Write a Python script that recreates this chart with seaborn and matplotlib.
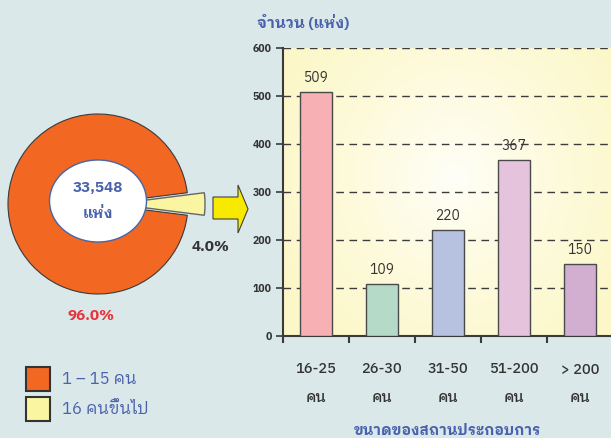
import numpy as np
import pandas as pd
import matplotlib
matplotlib.use("Agg")
import matplotlib.pyplot as plt
import seaborn as sns
from matplotlib.patches import Ellipse, Polygon

# ข้อมูล
pie_labels = ['1 – 15 คน', '16 คนขึ้นไป']
pie_values = [96.0, 4.0]
pie_colors = ['#F26722', '#F9F5A0']
total_label = ['33,548', 'แห่ง']

size_labels = ['16-25\nคน', '26-30\nคน', '31-50\nคน', '51-200\nคน', '> 200\nคน']
size_counts = [509, 109, 220, 367, 150]
bar_colors = ['#F7B0B4', '#B5DBC8', '#B7C2E0', '#E6C3DD', '#D2AED0']

y_title = 'จำนวน (แห่ง)'
x_title = 'ขนาดของสถานประกอบการ'

sns.set_theme(style='white')
plt.rcParams['font.family'] = ['IBM Plex Sans Thai Looped', 'Noto Sans Thai Looped', 'DejaVu Sans']

BG = '#DAE8E9'
BLUE = '#4A62AC'
DARK = '#333333'

fig = plt.figure(figsize=(6.11, 4.38), dpi=100, facecolor=BG)

# ---- แผนภูมิวงกลม (พิกัดเป็นพิกเซล) ----
ax0 = fig.add_axes([0, 0, 1, 1])
wedges, _ = ax0.pie(pie_values, colors=pie_colors, radius=90, center=(98, 204),
                    startangle=7.2, explode=[0, 17],
                    wedgeprops=dict(edgecolor='#3a3a3a', linewidth=0.8))
wedges[1].set_edgecolor('#666666')
wedges[1].set_linewidth(1.0)
ax0.set_xlim(0, 611)
ax0.set_ylim(438, 0)
ax0.set_aspect('auto')
ax0.axis('off')

ax0.add_patch(Ellipse((98, 201), 97, 82, facecolor='white', edgecolor='#4466AA', lw=1, zorder=5))
ax0.text(98, 188, total_label[0], ha='center', va='center', color=BLUE,
         fontsize=11, fontweight='bold', zorder=6)
ax0.text(98, 214, total_label[1], ha='center', va='center', color=BLUE,
         fontsize=11, fontweight='bold', zorder=6)

ax0.text(91, 316, f'{pie_values[0]:.1f}%', ha='center', va='center', color='#E8343A',
         fontsize=11, fontweight='bold')
ax0.text(210, 247, f'{pie_values[1]:.1f}%', ha='center', va='center', color=DARK,
         fontsize=11, fontweight='bold')

# ลูกศรสีเหลือง
ax0.add_patch(Polygon([(213, 197), (238, 197), (238, 185), (248, 209),
                       (238, 233), (238, 219), (213, 219)], closed=True,
                      facecolor='#F7EA00', edgecolor='#404040', lw=0.8, zorder=4))

# คำอธิบาย
leg = ax0.legend(wedges, pie_labels, loc='upper left', bbox_to_anchor=(0.0184, 0.197),
                 frameon=False, fontsize=12, handlelength=1.44, handleheight=1.83,
                 handletextpad=0.72, labelspacing=0.36, labelcolor=BLUE)
for h in leg.legend_handles:
    h.set_edgecolor('#333333')
    h.set_linewidth(1.5)

# ---- แผนภูมิแท่ง ----
ax1 = fig.add_axes([283 / 611, 1 - 336 / 438, 330 / 611, 288 / 438])
ax1.set_facecolor('none')

# พื้นหลังไล่สีแบบรัศมี
gx, gy = np.meshgrid(np.linspace(0, 1, 200), np.linspace(0, 1, 200))
r = np.sqrt(((gx - 0.52) / 0.6) ** 2 + ((gy - 0.45) / 0.75) ** 2)
r = np.clip(r, 0, 1) ** 0.8
c_in = np.array([1.0, 1.0, 0.98])
c_out = np.array([252, 247, 200]) / 255
img = c_in[None, None, :] * (1 - r[..., None]) + c_out[None, None, :] * r[..., None]
ax1.imshow(img, extent=(-0.5, 4.5, 0, 600), aspect='auto', zorder=0, origin='upper')

df = pd.DataFrame({'size': size_labels, 'count': size_counts})
sns.barplot(data=df, x='size', y='count', hue='size', palette=bar_colors, width=0.49,
            saturation=1, edgecolor='#4a4a4a', linewidth=1, legend=False, ax=ax1, zorder=3)

for cont in ax1.containers:
    ax1.bar_label(cont, padding=5, fontsize=10, color=DARK)

ax1.set_xlim(-0.5, 4.5)
ax1.set_ylim(0, 600)
ax1.set_yticks(np.arange(0, 700, 100))
ax1.yaxis.grid(True, linestyle=(0, (5.5, 4)), color='#3c3c3c', lw=1)
ax1.set_axisbelow(True)

ax1.set_xticks(np.arange(-0.5, 5, 1))
ax1.set_xticklabels([])
ax1.set_xticks(range(len(size_labels)), minor=True)
ax1.set_xticklabels(size_labels, minor=True, fontsize=10.5, color=DARK, linespacing=2.35,
                    fontweight='medium')
ax1.tick_params(axis='x', which='major', direction='out', length=5, width=1.5,
                color='#3a3a3a', bottom=True)
ax1.tick_params(axis='x', which='minor', length=0, pad=19)
ax1.tick_params(axis='y', direction='out', length=5, width=1.2, color='#3a3a3a',
                labelsize=7.5, labelcolor=DARK, left=True, pad=3)
for lab in ax1.get_yticklabels():
    lab.set_fontweight('bold')

for s in ['top', 'right']:
    ax1.spines[s].set_visible(False)
for s in ['left', 'bottom']:
    ax1.spines[s].set_color('#3a3a3a')
    ax1.spines[s].set_linewidth(1.5)
ax1.set_xlabel('')
ax1.set_ylabel('')

fig.text(257 / 611, 1 - 23 / 438, y_title, ha='left', va='center', color=BLUE,
         fontsize=11, fontweight='bold')
fig.text(447 / 611, 1 - 431 / 438, x_title, ha='center', va='center', color=BLUE,
         fontsize=10.5, fontweight='bold')

fig.savefig('out.png', dpi=100, facecolor=BG)
